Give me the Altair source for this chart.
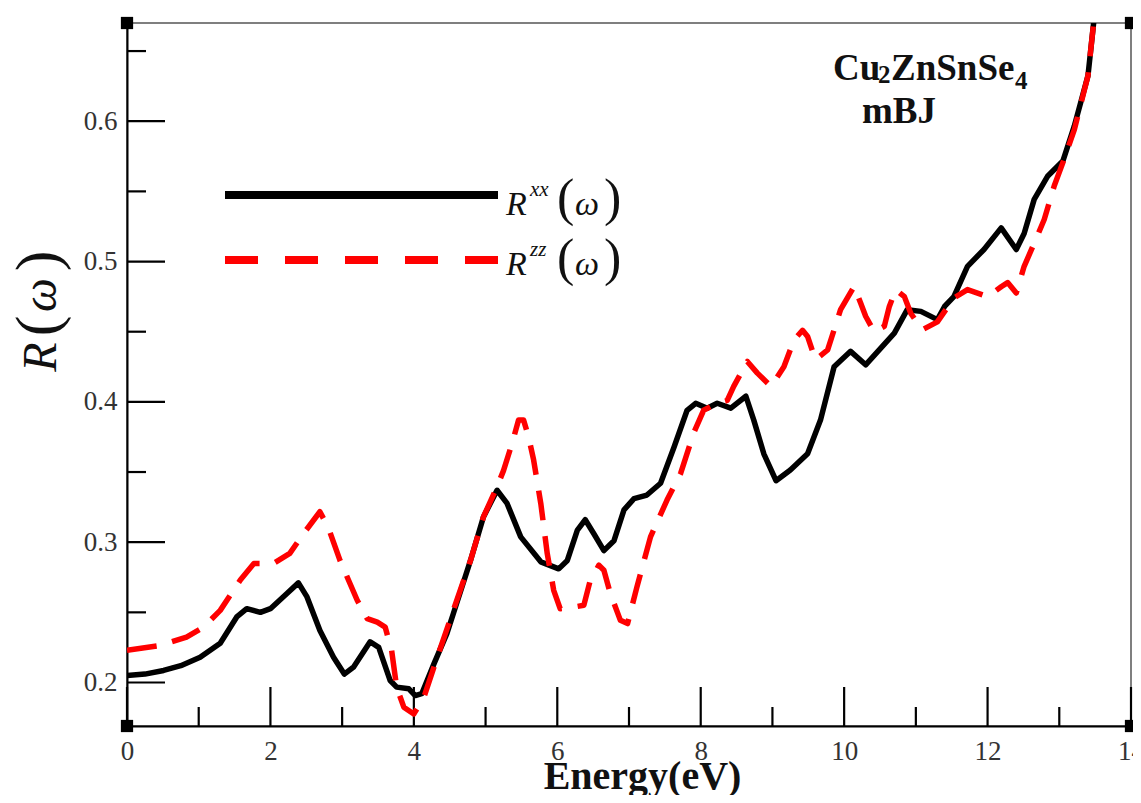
import altair as alt
import pandas as pd

# ---- data ----
E_xx = [0.00, 0.25, 0.51, 0.75, 1.02, 1.30, 1.53, 1.67, 1.86, 2.00, 2.23, 2.39, 2.51, 2.69, 2.88,
        3.03, 3.16, 3.39, 3.51, 3.67, 3.76, 3.93, 4.02, 4.11, 4.28, 4.46, 4.55, 4.79, 4.97, 5.16,
        5.30, 5.49, 5.77, 6.02, 6.14, 6.28, 6.39, 6.51, 6.65, 6.79, 6.93, 7.07, 7.25, 7.44, 7.63,
        7.81, 7.93, 8.09, 8.23, 8.42, 8.63, 8.74, 8.88, 9.05, 9.25, 9.49, 9.67, 9.86, 10.09, 10.30,
        10.70, 10.88, 11.07, 11.30, 11.40, 11.53, 11.72, 11.95, 12.19, 12.40, 12.51, 12.65, 12.84,
        13.05, 13.21, 13.40, 13.48]
R_xx = [0.205, 0.206, 0.2086, 0.212, 0.218, 0.228, 0.2467, 0.2526, 0.250, 0.2526, 0.2634, 0.271,
        0.261, 0.237, 0.218, 0.206, 0.211, 0.229, 0.225, 0.2014, 0.1967, 0.1955, 0.1907, 0.192,
        0.2133, 0.2348, 0.249, 0.287, 0.318, 0.337, 0.3276, 0.3038, 0.286, 0.281, 0.287, 0.3086,
        0.316, 0.306, 0.294, 0.301, 0.323, 0.331, 0.3336, 0.342, 0.368, 0.394, 0.399, 0.3955,
        0.399, 0.3955, 0.404, 0.387, 0.363, 0.3438, 0.3514, 0.363, 0.387, 0.425, 0.436, 0.4264,
        0.449, 0.4657, 0.4645, 0.4586, 0.468, 0.475, 0.4966, 0.5086, 0.524, 0.5086, 0.52, 0.5443,
        0.561, 0.5716, 0.5967, 0.6324, 0.6705]

E_zz = [0.00, 0.46, 0.83, 1.07, 1.30, 1.58, 1.77, 2.04, 2.27, 2.46, 2.69, 2.81, 2.97, 3.21, 3.35,
        3.49, 3.60, 3.69, 3.76, 3.86, 4.00, 4.14, 4.28, 4.55, 4.79, 4.97, 5.16, 5.25, 5.37, 5.46,
        5.53, 5.60, 5.67, 5.77, 5.86, 5.95, 6.04, 6.23, 6.37, 6.46, 6.58, 6.65, 6.74, 6.88, 6.98,
        7.11, 7.30, 7.53, 7.72, 7.90, 8.04, 8.23, 8.37, 8.46, 8.65, 8.79, 8.98, 9.16, 9.30, 9.42,
        9.49, 9.60, 9.77, 9.95, 10.14, 10.23, 10.30, 10.42, 10.56, 10.63, 10.72, 10.84, 10.93,
        11.09, 11.30, 11.53, 11.72, 12.00, 12.19, 12.28, 12.40, 12.51, 12.65, 12.79, 12.93, 13.05,
        13.21, 13.40, 13.48]
R_zz = [0.2229, 0.2264, 0.2324, 0.2395, 0.2514, 0.273, 0.2848, 0.2848, 0.292, 0.306, 0.3217, 0.31,
        0.287, 0.2586, 0.2455, 0.243, 0.2395, 0.2229, 0.1967, 0.1824, 0.1776, 0.1895, 0.211,
        0.2514, 0.287, 0.318, 0.3395, 0.351, 0.3705, 0.387, 0.387, 0.375, 0.3586, 0.3276, 0.2919,
        0.2657, 0.2526, 0.2538, 0.255, 0.2729, 0.2836, 0.28, 0.2634, 0.2443, 0.242, 0.268, 0.3038,
        0.33, 0.349, 0.3776, 0.394, 0.399, 0.401, 0.411, 0.4288, 0.4205, 0.411, 0.425, 0.444,
        0.451, 0.4466, 0.43, 0.437, 0.4657, 0.4824, 0.4705, 0.461, 0.45, 0.4538, 0.468, 0.48,
        0.475, 0.463, 0.4514, 0.457, 0.474, 0.48, 0.475, 0.482, 0.485, 0.4776, 0.4966, 0.513,
        0.53, 0.554, 0.5705, 0.594, 0.6324, 0.6705]

x_major = [0, 2, 4, 6, 8, 10, 12, 14]
x_minor = [1, 3, 5, 7, 9, 11, 13]
y_major = [0.2, 0.3, 0.4, 0.5, 0.6]
y_minor = [0.25, 0.35, 0.45, 0.55, 0.65]
x_domain = [0, 14]
y_domain = [0.169, 0.67]

SERIF = "'Liberation Serif', 'Times New Roman', Times, 'DejaVu Serif', serif"
W, H = 1004, 703

xs = alt.Scale(domain=x_domain, nice=False, zero=False)
ys = alt.Scale(domain=y_domain, nice=False, zero=False)
xaxis = alt.Axis(values=x_major, format="d", ticks=False, grid=False, labelFlush=False,
                 labelFont=SERIF, labelFontSize=27, labelColor="#333", labelPadding=12,
                 domainColor="#000", domainWidth=2,
                 title="Energy(eV)", titleFont=SERIF, titleFontSize=40, titleFontWeight="bold",
                 titleColor="#111", titleX=515, titleY=62, titleBaseline="alphabetic")
yaxis = alt.Axis(values=y_major, format=".1f", ticks=False, grid=False,
                 labelFont=SERIF, labelFontSize=27, labelColor="#333", labelPadding=10,
                 domainColor="#000", domainWidth=2, title="")
xenc = alt.X("E:Q", scale=xs, axis=xaxis)
yenc = alt.Y("R:Q", scale=ys, axis=yaxis)

df_xx = pd.DataFrame({"E": E_xx, "R": R_xx})
df_zz = pd.DataFrame({"E": E_zz, "R": R_zz})

line_xx = alt.Chart(df_xx).mark_line(color="#000", strokeWidth=5.5, clip=True,
                                     strokeJoin="round").encode(x=xenc, y=yenc)
line_zz = alt.Chart(df_zz).mark_line(color="#ff0000", strokeWidth=5.5, strokeDash=[30, 16],
                                     clip=True, strokeJoin="round").encode(x=xenc, y=yenc)

# inward ticks
xt_major = alt.Chart(pd.DataFrame({"E": x_major})).mark_rule(color="#000", strokeWidth=2.2).encode(
    x=xenc, y=alt.value(H), y2=alt.value(H - 39))
xt_minor = alt.Chart(pd.DataFrame({"E": x_minor})).mark_rule(color="#000", strokeWidth=2.2).encode(
    x=xenc, y=alt.value(H), y2=alt.value(H - 19))
yt_major = alt.Chart(pd.DataFrame({"R": y_major})).mark_rule(color="#000", strokeWidth=2.2).encode(
    y=yenc, x=alt.value(0), x2=alt.value(38))
yt_minor = alt.Chart(pd.DataFrame({"R": y_minor})).mark_rule(color="#000", strokeWidth=2.2).encode(
    y=yenc, x=alt.value(0), x2=alt.value(19))

corners = alt.Chart(pd.DataFrame({"E": [x_domain[0], x_domain[1], x_domain[0], x_domain[1]],
                                  "R": [y_domain[0], y_domain[0], y_domain[1], y_domain[1]]})
                    ).mark_square(size=150, color="#000", opacity=1, filled=True).encode(x=xenc, y=yenc)

one = pd.DataFrame({"a": [0]})


def txt(s, x, y, size, style="normal", weight="normal", angle=0, align="left", color="#111"):
    return alt.Chart(one).mark_text(font=SERIF, fontSize=size, fontStyle=style, fontWeight=weight,
                                    angle=angle, align=align, baseline="alphabetic",
                                    color=color).encode(x=alt.value(x), y=alt.value(y),
                                                         text=alt.value(s))


# legend
leg_xx = alt.Chart(one).mark_rule(color="#000", strokeWidth=8).encode(
    x=alt.value(98), x2=alt.value(371), y=alt.value(172))
leg_zz = alt.Chart(one).mark_rule(color="#ff0000", strokeWidth=8, strokeDash=[33, 27]).encode(
    x=alt.value(98), x2=alt.value(371), y=alt.value(237))

texts = []
for dy, sup in [(0, "xx"), (60, "zz")]:
    texts += [
        txt("R", 379, 192 + dy, 34, style="italic"),
        txt(sup, 403, 173 + dy, 21, style="italic"),
        txt("(", 430, 192 + dy, 52),
        txt("ω", 448, 192 + dy, 34, style="italic"),
        txt(")", 477, 192 + dy, 52),
    ]

# annotation
texts += [
    txt("Cu", 706, 57, 37, weight="bold"),
    txt("2", 751, 60, 25, weight="bold"),
    txt("ZnSnSe", 764, 57, 37, weight="bold"),
    txt("4", 888, 66, 25, weight="bold"),
    txt("mBJ", 735, 100, 37, weight="bold"),
]

# y axis title R(ω), rotated
texts += [
    txt("R", -71, 334, 48, style="italic", angle=270, align="center"),
    txt("(", -69, 303, 62, angle=270, align="center"),
    txt("ω", -71, 272, 48, style="italic", angle=270, align="center"),
    txt(")", -69, 238, 62, angle=270, align="center"),
]

chart = alt.layer(
    xt_major, xt_minor, yt_major, yt_minor, line_xx, line_zz, corners, leg_xx, leg_zz, *texts
).properties(
    width=W, height=H,
    autosize=alt.AutoSizeParams(type="none"),
    padding={"left": 119, "top": 15, "right": 2, "bottom": 69},
    background="white",
).configure_view(stroke="#555", strokeWidth=1.5).configure_axis(labelFont=SERIF, titleFont=SERIF)

chart.save("out.html", embed_options={"renderer": "svg", "actions": False})
